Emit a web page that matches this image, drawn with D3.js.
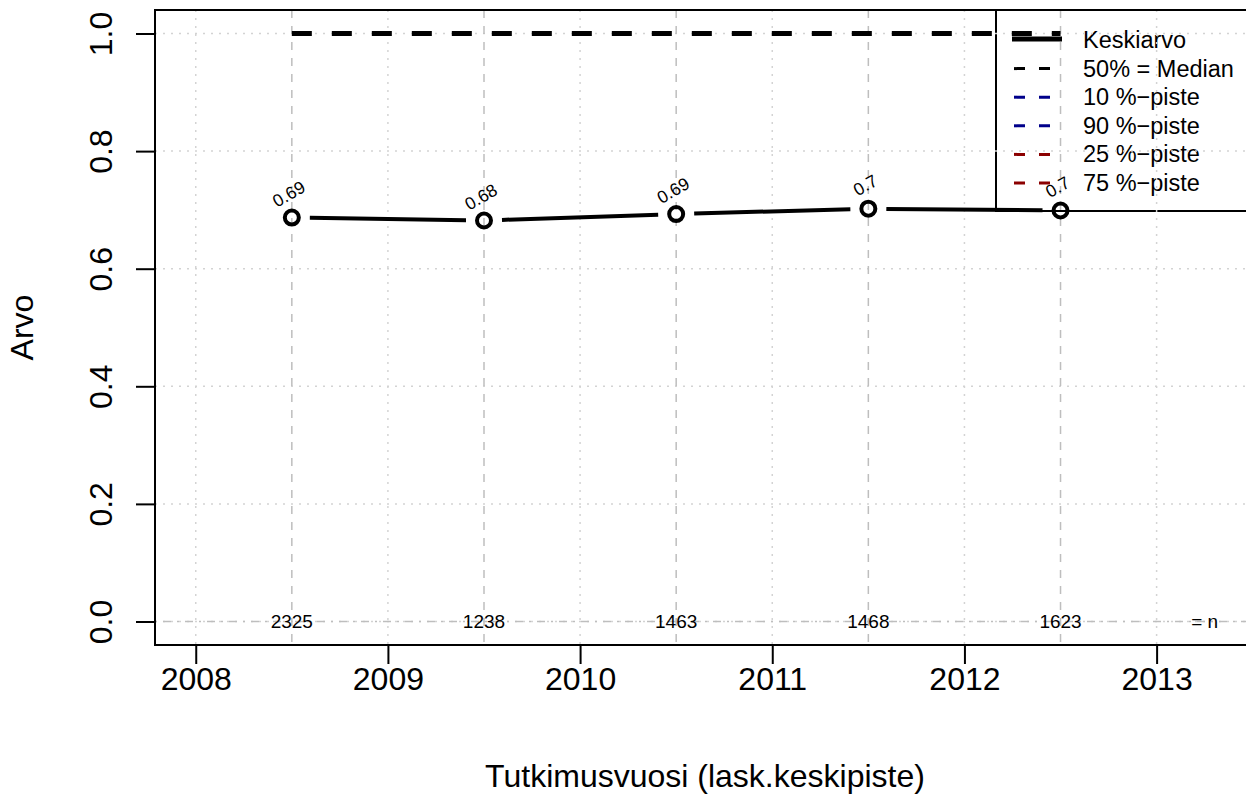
<!DOCTYPE html>
<html>
<head>
<meta charset="utf-8">
<script src="https://cdn.jsdelivr.net/npm/d3@7"></script>
<style>
  html, body { margin: 0; padding: 0; background: #fff; }
  svg { display: block; font-family: "Liberation Sans", Arial, Helvetica, sans-serif; }
</style>
</head>
<body>
<svg id="chart" width="1246" height="799"></svg>
<script>
// ---- data ----
const years = [2008.5, 2009.5, 2010.5, 2011.5, 2012.5];
const meanValues = [0.687, 0.682, 0.693, 0.702, 0.699];
const meanLabels = ["0.69", "0.68", "0.69", "0.7", "0.7"];
const medianValues = [1, 1, 1, 1, 1];
const nValues = [2325, 1238, 1463, 1468, 1623];
const xTicks = [2008, 2009, 2010, 2011, 2012, 2013];
const yTicks = [0, 0.2, 0.4, 0.6, 0.8, 1.0];
const legendLabels = ["Keskiarvo", "50% = Median", "10 %\u2212piste", "90 %\u2212piste", "25 %\u2212piste", "75 %\u2212piste"];
const legendColors = ["#000000", "#000000", "#00008B", "#00008B", "#8B0000", "#8B0000"];
const nLabelX = 2013.25;

(function () {
// ---- layout ----
const pLeft = 155, pRight = 1255, pTop = 10, pBottom = 645;
const svg = d3.select("#chart");
const x = d3.scaleLinear().domain([2007.788, 2013.512]).range([pLeft, pRight]);
const y = d3.scaleLinear().domain([-0.04, 1.04]).range([pBottom, pTop]);

// ---- legend (drawn first, grid over it) ----
const lg = svg.append("g");
lg.append("rect").attr("x", 996).attr("y", pTop).attr("width", pRight - 996).attr("height", 211 - pTop)
  .attr("fill", "#fff").attr("stroke", "#000").attr("stroke-width", 2);
legendLabels.forEach((lab, i) => {
  const ly = 40 + i * 28.6;
  if (i === 0) {
    lg.append("line").attr("x1", 1012).attr("x2", 1062).attr("y1", ly - 1).attr("y2", ly - 1)
      .attr("stroke", "#000").attr("stroke-width", 5);
  } else {
    lg.append("line").attr("x1", 1014).attr("x2", 1062).attr("y1", ly).attr("y2", ly)
      .attr("stroke", legendColors[i]).attr("stroke-width", 3).attr("stroke-dasharray", "11,14");
  }
  lg.append("text").attr("x", 1083).attr("y", ly).attr("dominant-baseline", "central")
    .attr("font-size", 23.5).attr("fill", "#000").text(lab);
});

// ---- grid ----
const grid = svg.append("g");
xTicks.forEach(t => {
  grid.append("line").attr("x1", x(t)).attr("x2", x(t)).attr("y1", pTop).attr("y2", pBottom)
    .attr("stroke", "#d3d3d3").attr("stroke-width", 1.5).attr("stroke-dasharray", "2,6");
});
yTicks.forEach(t => {
  grid.append("line").attr("x1", pLeft).attr("x2", pRight).attr("y1", y(t)).attr("y2", y(t))
    .attr("stroke", "#d3d3d3").attr("stroke-width", 1.5).attr("stroke-dasharray", "2,6");
});
years.forEach(t => {
  grid.append("line").attr("x1", x(t)).attr("x2", x(t)).attr("y1", pTop).attr("y2", pBottom)
    .attr("stroke", "#bebebe").attr("stroke-width", 1.5).attr("stroke-dasharray", "8,8");
});
// n line at 0
grid.append("line").attr("x1", pLeft).attr("x2", pRight).attr("y1", y(0)).attr("y2", y(0))
  .attr("stroke", "#bebebe").attr("stroke-width", 1.5).attr("stroke-dasharray", "2,6,8,6");

// ---- median line ----
svg.append("path")
  .datum(years.map((v, i) => [v, medianValues[i]]))
  .attr("d", d3.line().x(d => x(d[0])).y(d => y(d[1])))
  .attr("fill", "none").attr("stroke", "#000").attr("stroke-width", 5)
  .attr("stroke-dasharray", "20,20");

// ---- mean line (type "b": gaps around points) ----
const gap = 18;
for (let i = 0; i < years.length - 1; i++) {
  const x1 = x(years[i]), y1 = y(meanValues[i]);
  const x2 = x(years[i + 1]), y2 = y(meanValues[i + 1]);
  const len = Math.hypot(x2 - x1, y2 - y1);
  const ux = (x2 - x1) / len, uy = (y2 - y1) / len;
  svg.append("line")
    .attr("x1", x1 + ux * gap).attr("y1", y1 + uy * gap)
    .attr("x2", x2 - ux * gap).attr("y2", y2 - uy * gap)
    .attr("stroke", "#000").attr("stroke-width", 4);
}
svg.append("g").selectAll("circle").data(years).join("circle")
  .attr("cx", d => x(d)).attr("cy", (d, i) => y(meanValues[i])).attr("r", 7)
  .attr("fill", "none").attr("stroke", "#000").attr("stroke-width", 4);

// value labels
svg.append("g").selectAll("text").data(years).join("text")
  .attr("transform", (d, i) => `translate(${x(d) - 3},${y(meanValues[i] + 0.04)}) rotate(-30)`)
  .attr("text-anchor", "middle").attr("dominant-baseline", "central")
  .attr("font-size", 17.5).attr("fill", "#000")
  .text((d, i) => meanLabels[i]);

// n labels
svg.append("g").selectAll("text").data(years).join("text")
  .attr("x", d => x(d)).attr("y", y(0)).attr("text-anchor", "middle")
  .attr("dominant-baseline", "central").attr("font-size", 19).attr("fill", "#000")
  .text((d, i) => nValues[i]);
svg.append("text").attr("x", x(nLabelX)).attr("y", y(0)).attr("text-anchor", "middle")
  .attr("dominant-baseline", "central").attr("font-size", 19).text("= n");

// ---- axes ----
const xAxis = svg.append("g").attr("transform", `translate(0,${pBottom})`)
  .call(d3.axisBottom(x).tickValues(xTicks).tickFormat(d3.format("d")).tickSize(19).tickPadding(3));
xAxis.select(".domain").remove();
xAxis.selectAll("line").attr("stroke-width", 2);
xAxis.selectAll("text").attr("font-size", 32).attr("font-family", "Liberation Sans, Arial, sans-serif");

const yAxis = svg.append("g").attr("transform", `translate(${pLeft},0)`)
  .call(d3.axisLeft(y).tickValues(yTicks).tickFormat(d3.format(".1f")).tickSize(19));
yAxis.select(".domain").remove();
yAxis.selectAll("line").attr("stroke-width", 2);
yAxis.selectAll("text").attr("font-size", 32).attr("font-family", "Liberation Sans, Arial, sans-serif")
  .attr("transform", "rotate(-90)").attr("x", 0).attr("y", -43).attr("dy", 0)
  .attr("text-anchor", "middle");

// box
svg.append("rect").attr("x", pLeft).attr("y", pTop).attr("width", pRight - pLeft).attr("height", pBottom - pTop)
  .attr("fill", "none").attr("stroke", "#000").attr("stroke-width", 2);

// axis titles
svg.append("text").attr("x", (pLeft + pRight) / 2).attr("y", 787).attr("text-anchor", "middle")
  .attr("font-size", 32).text("Tutkimusvuosi (lask.keskipiste)");
svg.append("text").attr("transform", `translate(33,${(pTop + pBottom) / 2}) rotate(-90)`)
  .attr("text-anchor", "middle").attr("font-size", 32).text("Arvo");
})();
</script>
</body>
</html>
